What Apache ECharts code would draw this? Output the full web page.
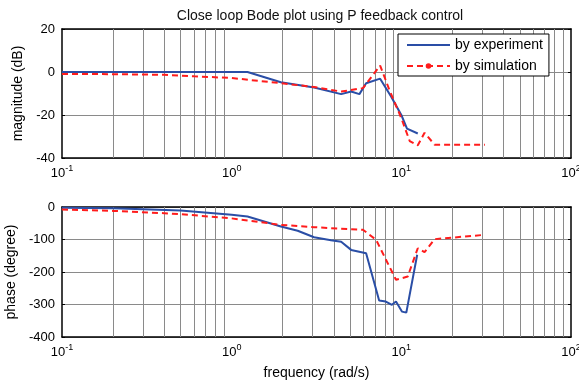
<!DOCTYPE html>
<html>
<head>
<meta charset="utf-8">
<script src="https://cdn.jsdelivr.net/npm/echarts@6/dist/echarts.min.js"></script>
<style>html,body{margin:0;padding:0;background:#fff;}#c{width:579px;height:383px;}</style>
</head>
<body>
<div id="c"></div>
<script>
// ---- data ----
const magExpF = [0.1, 1.24, 1.95, 3.06, 4.42, 5.06, 5.66, 6.2, 7.5, 8.7, 10, 10.8, 12.5];
const magExp  = [0, 0, -4.8, -7.2, -10.3, -9.1, -10.3, -5.2, -3.1, -11.4, -20, -26.3, -28.6];
const magSimF = [0.1, 0.2, 0.4, 0.6, 1, 1.95, 3.06, 4.42, 5.94, 7.5, 8.5, 10, 11.2, 12.5, 13.7, 15.7, 31.1];
const magSim  = [-0.9, -1.0, -1.3, -2.0, -2.8, -5.2, -7.0, -9.1, -7.5, 3.0, -8.3, -21.5, -32.1, -34.1, -28.3, -33.8, -33.8];
const phaseExpF = [0.1, 0.2, 0.5, 1, 1.24, 1.95, 2.45, 3.06, 3.85, 4.42, 5.06, 6.2, 7.4, 8.1, 8.8, 9.3, 10.1, 10.7, 12.4];
const phaseExp  = [-2, -4, -11, -24, -29, -60, -73, -93, -102, -107, -132, -142, -288, -291, -301, -291, -322, -325, -147];
const phaseSimF = [0.1, 0.2, 0.4, 0.5, 1, 1.95, 3.06, 3.85, 5.94, 7.1, 9.3, 10.9, 12.5, 13.7, 15.7, 30.3];
const phaseSim  = [-8, -12, -19, -22, -35, -55, -62, -65, -70, -101, -224, -214, -127, -139, -99, -86];
const magTicks = [-40, -20, 0, 20];
const phaseTicks = [-400, -300, -200, -100, 0];
const decadeTicks = [0.1, 1, 10, 100];
const minorGrid = [];
[0.1, 1, 10].forEach(d => { for (let k = 2; k <= 9; k++) minorGrid.push(+(d * k).toPrecision(3)); });

const titleText = 'Close loop Bode plot using P feedback control';
const magName = 'magnitude (dB)';
const phaseName = 'phase (degree)';
const freqName = 'frequency (rad/s)';
const expName = 'by experiment';
const simName = 'by simulation';

const zip = (a, b) => a.map((v, i) => [v, b[i]]);
const FONT = 'Liberation Sans, Arial, sans-serif';
const BLUE = '#2a4ea6';
const RED = '#ff1c1c';

function expLabel(v) {
  const e = Math.round(Math.log10(v));
  return '{b|10}{s|' + e + '}';
}
const richLab = {
  b: { fontSize: 13, fontFamily: FONT, color: '#000', lineHeight: 16, verticalAlign: 'bottom' },
  s: { fontSize: 9, fontFamily: FONT, color: '#000', lineHeight: 16, verticalAlign: 'top', padding: [0, 0, 8, 0] }
};

function xAxisDef(gi, showLabel, name, gh) {
  return {
    type: 'log', logBase: 10, gridIndex: gi, min: 0.1, max: 100,
    axisLine: { show: true, onZero: false, lineStyle: { color: '#000', width: 1.5 } },
    axisTick: { show: true, inside: true, customValues: minorGrid, length: gh, lineStyle: { color: '#8a8a8a', width: 1 } },
    axisLabel: { show: showLabel, customValues: decadeTicks, formatter: expLabel, rich: richLab, margin: 6 },
    splitLine: { show: true, lineStyle: { color: '#555', width: 1 } },
    name: name, nameLocation: 'middle', nameGap: 29,
    nameTextStyle: { fontSize: 14, fontFamily: FONT, color: '#000' }
  };
}
function xTopDef(gi) {
  return {
    type: 'log', logBase: 10, gridIndex: gi, min: 0.1, max: 100, position: 'top',
    axisLine: { show: true, onZero: false, lineStyle: { color: '#000', width: 1.5 } },
    axisTick: { show: false }, axisLabel: { show: false }, splitLine: { show: false }
  };
}
function yAxisDef(gi, mn, mx, iv, name) {
  return {
    type: 'value', gridIndex: gi, min: mn, max: mx, interval: iv,
    axisLine: { show: true, onZero: false, lineStyle: { color: '#000', width: 1.5 } },
    axisTick: { show: true, inside: true, length: 3, lineStyle: { color: '#000' } },
    axisLabel: { fontSize: 13, fontFamily: FONT, color: '#000', margin: 7 },
    splitLine: { show: true, lineStyle: { color: '#8a8a8a', width: 1 } },
    name: name, nameLocation: 'middle', nameGap: 36,
    nameTextStyle: { fontSize: 14, fontFamily: FONT, color: '#000' }
  };
}
function yRightDef(gi, mn, mx, iv) {
  return {
    type: 'value', gridIndex: gi, min: mn, max: mx, interval: iv, position: 'right',
    axisLine: { show: true, onZero: false, lineStyle: { color: '#000', width: 1.5 } },
    axisTick: { show: true, inside: true, length: 3, lineStyle: { color: '#000' } },
    axisLabel: { show: false }, splitLine: { show: false }
  };
}

const chart = echarts.init(document.getElementById('c'), null, { renderer: 'canvas' });
chart.setOption({
  animation: false,
  backgroundColor: '#fff',
  title: { text: titleText, left: 315, textAlign: 'center', top: 4,
    textStyle: { fontSize: 14, fontWeight: 'normal', fontFamily: FONT, color: '#111' } },
  grid: [
    { left: 62, right: 8, top: 29, height: 129, outerBoundsMode: 'none', containLabel: false },
    { left: 62, right: 8, top: 207, height: 130, outerBoundsMode: 'none', containLabel: false }
  ],
  xAxis: [ xAxisDef(0, true, '', 129), xAxisDef(1, true, freqName, 130), xTopDef(0), xTopDef(1) ],
  yAxis: [ yAxisDef(0, -40, 20, 20, magName), yAxisDef(1, -400, 0, 100, phaseName), yRightDef(0, -40, 20, 20), yRightDef(1, -400, 0, 100) ],
  legend: {
    orient: 'vertical', left: 398, top: 34, width: 154,
    backgroundColor: '#fff', borderColor: '#000', borderWidth: 1, borderRadius: 0,
    padding: [4, 6, 3, 8], itemGap: 7, itemWidth: 43, itemHeight: 7,
    textStyle: { fontSize: 14, fontFamily: FONT, color: '#000' },
    data: [
      { name: expName, itemStyle: { opacity: 0 } },
      { name: simName }
    ]
  },
  series: [
    { name: expName, type: 'line', xAxisIndex: 0, yAxisIndex: 0, data: zip(magExpF, magExp),
      symbol: 'none', lineStyle: { color: BLUE, width: 2 }, itemStyle: { color: BLUE }, z: 3 },
    { name: simName, type: 'line', xAxisIndex: 0, yAxisIndex: 0, data: zip(magSimF, magSim),
      symbol: 'circle', symbolSize: 4, showSymbol: false,
      lineStyle: { color: RED, width: 2, type: [6, 4] }, itemStyle: { color: RED }, z: 4 },
    { name: expName, type: 'line', xAxisIndex: 1, yAxisIndex: 1, data: zip(phaseExpF, phaseExp),
      symbol: 'none', lineStyle: { color: BLUE, width: 2 }, itemStyle: { color: BLUE }, z: 3 },
    { name: simName, type: 'line', xAxisIndex: 1, yAxisIndex: 1, data: zip(phaseSimF, phaseSim),
      symbol: 'circle', symbolSize: 4, showSymbol: false,
      lineStyle: { color: RED, width: 2, type: [6, 4] }, itemStyle: { color: RED }, z: 4 }
  ]
});
</script>
</body>
</html>
